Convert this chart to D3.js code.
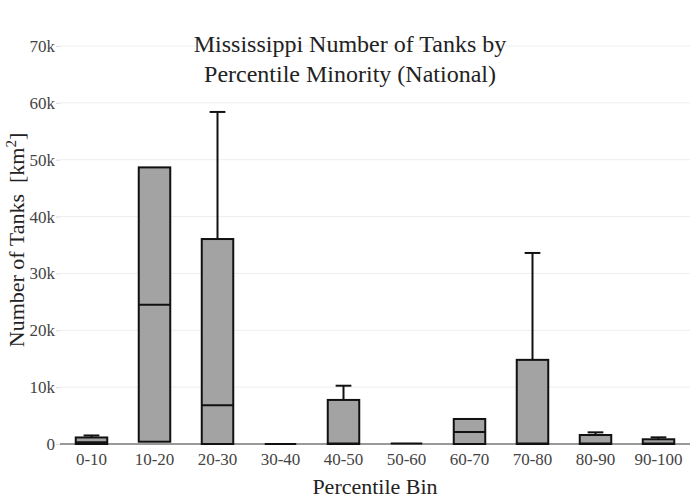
<!DOCTYPE html>
<html>
<head>
<meta charset="utf-8">
<script src="https://cdn.jsdelivr.net/npm/d3@7"></script>
<style>
  body { margin: 0; background: #fff; }
</style>
</head>
<body>
<div id="wrapper"></div>
<script>
// percentile bins and box stats
const bins = ["0-10", "10-20", "20-30", "30-40", "40-50", "50-60", "60-70", "70-80", "80-90", "90-100"]
const lowerFence = [0, 400, 0, 0, 0, 100, 0, 0, 0, 0]
const q1 = [0, 400, 0, 0, 0, 100, 0, 0, 0, 0]
const median = [300, 24500, 6800, 0, 100, 100, 2100, 100, 100, 100]
const q3 = [1150, 48650, 36050, 0, 7750, 100, 4400, 14800, 1580, 830]
const upperFence = [1500, 48650, 58400, 0, 10250, 100, 4400, 33600, 2050, 1170]
const yTicks = [0, 10000, 20000, 30000, 40000, 50000, 60000, 70000]

const serif = "'Liberation Serif'"

function drawBoxes() {
  const dataset = bins.map((b, i) => ({
    bin: b,
    lo: lowerFence[i],
    q1: q1[i],
    med: median[i],
    q3: q3[i],
    hi: upperFence[i],
  }))

  let dms = {
    width: 700,
    height: 500,
    margin: { top: 46, right: 10, bottom: 56, left: 60 },
  }
  dms.boundedWidth = dms.width - dms.margin.left - dms.margin.right
  dms.boundedHeight = dms.height - dms.margin.top - dms.margin.bottom

  const wrapper = d3.select("#wrapper")
    .append("svg")
    .attr("width", dms.width)
    .attr("height", dms.height)

  const bounds = wrapper.append("g")
    .attr("transform", `translate(${dms.margin.left},${dms.margin.top})`)

  const xScale = d3.scaleBand()
    .domain(bins)
    .range([0, dms.boundedWidth])
    .padding(0)

  const yScale = d3.scaleLinear()
    .domain([0, 70000])
    .range([dms.boundedHeight, 0])

  // grid
  bounds.append("g")
    .selectAll("line")
    .data(yTicks.slice(1))
    .join("line")
    .attr("x1", 0)
    .attr("x2", dms.boundedWidth)
    .attr("y1", d => yScale(d))
    .attr("y2", d => yScale(d))
    .attr("stroke", "#eee")
    .attr("stroke-width", 1)

  // y axis
  const yAxisGenerator = d3.axisLeft(yScale)
    .tickValues(yTicks)
    .tickFormat(d => d === 0 ? "0" : d3.format("~s")(d))
    .tickSize(4)
    .tickPadding(1)

  const yAxis = bounds.append("g").call(yAxisGenerator)
  yAxis.select(".domain").remove()
  yAxis.selectAll(".tick line").attr("stroke", "#ddd")
  yAxis.selectAll(".tick text")
    .attr("fill", "#444")
    .style("font-family", serif)
    .style("font-size", "17px")

  // zero line
  bounds.append("line")
    .attr("x1", 0)
    .attr("x2", dms.boundedWidth)
    .attr("y1", yScale(0))
    .attr("y2", yScale(0))
    .attr("stroke", "#999")
    .attr("stroke-width", 2)

  // x axis
  const xAxisGenerator = d3.axisBottom(xScale).tickSize(0).tickPadding(9)
  const xAxis = bounds.append("g")
    .attr("transform", `translate(0,${dms.boundedHeight})`)
    .call(xAxisGenerator)
  xAxis.select(".domain").remove()
  xAxis.selectAll(".tick text")
    .attr("fill", "#444")
    .style("font-family", serif)
    .style("font-size", "17px")

  const boxW = xScale.bandwidth() * 0.5
  const capW = boxW * 0.5

  const boxes = bounds.append("g")
    .selectAll("g")
    .data(dataset)
    .join("g")
    .attr("transform", d => `translate(${xScale(d.bin) + xScale.bandwidth() / 2},0)`)

  // whiskers
  boxes.filter(d => d.hi > d.q3)
    .append("line")
    .attr("y1", d => yScale(d.q3))
    .attr("y2", d => yScale(d.hi))
    .attr("stroke", "#111")
    .attr("stroke-width", 2)
  boxes.filter(d => d.hi > d.q3)
    .append("line")
    .attr("x1", -capW / 2)
    .attr("x2", capW / 2)
    .attr("y1", d => yScale(d.hi))
    .attr("y2", d => yScale(d.hi))
    .attr("stroke", "#111")
    .attr("stroke-width", 2)

  boxes.append("rect")
    .attr("x", -boxW / 2)
    .attr("width", boxW)
    .attr("y", d => yScale(d.q3))
    .attr("height", d => yScale(d.q1) - yScale(d.q3))
    .attr("fill", "#a3a3a3")
    .attr("stroke", "#111")
    .attr("stroke-width", 2)

  boxes.append("line")
    .attr("x1", -boxW / 2)
    .attr("x2", boxW / 2)
    .attr("y1", d => yScale(d.med))
    .attr("y2", d => yScale(d.med))
    .attr("stroke", "#111")
    .attr("stroke-width", 2)

  // titles
  const title = wrapper.append("text")
    .attr("text-anchor", "middle")
    .attr("fill", "#222")
    .style("font-family", serif)
    .style("font-size", "24px")
  title.append("tspan").attr("x", 350).attr("y", 52).text("Mississippi Number of Tanks by")
  title.append("tspan").attr("x", 350).attr("y", 82).text("Percentile Minority (National)")

  wrapper.append("text")
    .attr("x", dms.margin.left + dms.boundedWidth / 2)
    .attr("y", 494)
    .attr("text-anchor", "middle")
    .attr("fill", "#222")
    .style("font-family", serif)
    .style("font-size", "22px")
    .text("Percentile Bin")

  const yLabel = wrapper.append("text")
    .attr("transform", `translate(24,240) rotate(-90)`)
    .attr("text-anchor", "middle")
    .attr("fill", "#222")
    .style("font-family", serif)
    .style("font-size", "22px")
  yLabel.append("tspan").text("Number of Tanks\u00a0\u00a0[km")
  yLabel.append("tspan").attr("dy", -8).style("font-size", "15px").text("2")
  yLabel.append("tspan").attr("dy", 8).text("]")
}

drawBoxes()
</script>
</body>
</html>
